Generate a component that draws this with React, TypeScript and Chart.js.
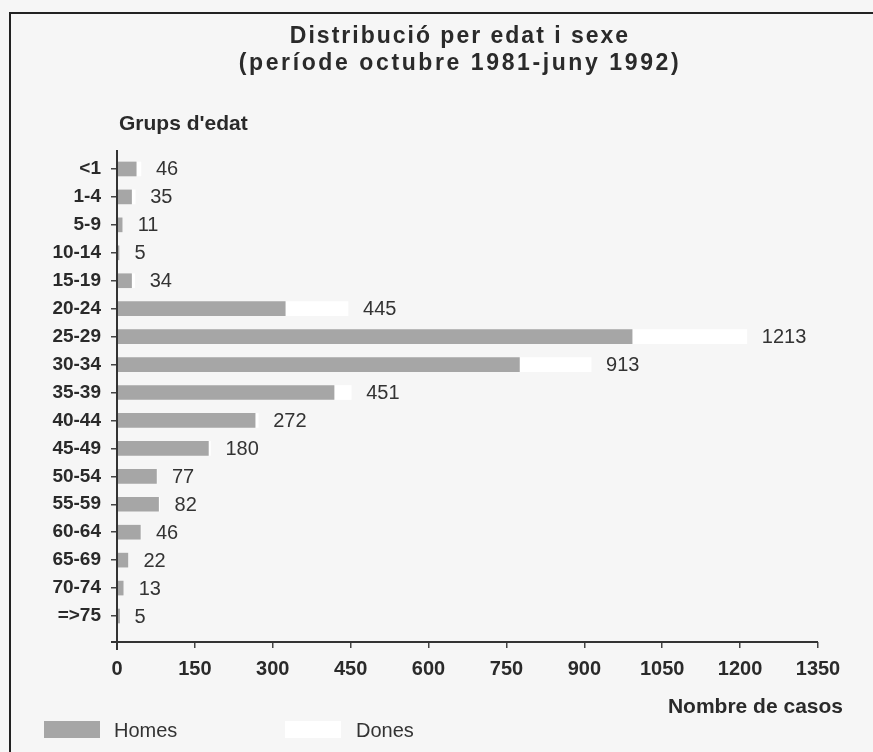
import React, { useEffect, useRef } from "react";
import { Chart, registerables } from "chart.js";

Chart.register(...registerables);

const ageGroups = ["<1", "1-4", "5-9", "10-14", "15-19", "20-24", "25-29", "30-34", "35-39", "40-44", "45-49", "50-54", "55-59", "60-64", "65-69", "70-74", "=>75"];
const homes = [37, 28, 10, 4, 28, 324, 992, 775, 418, 266, 176, 76, 80, 45, 21, 12, 5];
const dones = [9, 7, 1, 1, 6, 121, 221, 138, 33, 6, 4, 1, 2, 1, 1, 1, 0];
const xTicks = [0, 150, 300, 450, 600, 750, 900, 1050, 1200, 1350];
const titleLines = ["Distribució per edat i sexe", "(període octubre 1981-juny 1992)"];
const yTitle = "Grups d'edat";
const xTitle = "Nombre de casos";
const seriesNames = ["Homes", "Dones"];

const GRAY = "#a6a6a6";
const WHITE = "#ffffff";
const BG = "#f6f6f6";
const INK = "#2a2a2a";
const SANS = "'Liberation Sans', Arial, Helvetica, sans-serif";

const decorPlugin = {
  id: "decor",
  beforeDraw(chart: any) {
    const ctx = chart.ctx;
    ctx.save();
    ctx.fillStyle = BG;
    ctx.fillRect(0, 0, chart.width, chart.height);
    ctx.restore();
  },
  afterDatasetsDraw(chart: any) {
    const ctx = chart.ctx;
    const xs = chart.scales.x;
    const ys = chart.scales.y;
    ctx.save();
    // frame
    ctx.strokeStyle = "#222";
    ctx.lineWidth = 2;
    ctx.beginPath();
    ctx.moveTo(10, chart.height);
    ctx.lineTo(10, 13);
    ctx.lineTo(chart.width, 13);
    ctx.stroke();

    // axes
    ctx.strokeStyle = "#333";
    ctx.lineWidth = 2;
    const x0 = xs.getPixelForValue(0);
    ctx.beginPath();
    ctx.moveTo(x0, ys.top - 5);
    ctx.lineTo(x0, ys.bottom + 8);
    ctx.moveTo(x0 - 6, ys.bottom);
    ctx.lineTo(xs.getPixelForValue(1350), ys.bottom);
    ctx.stroke();

    // titles
    ctx.fillStyle = INK;
    ctx.textAlign = "center";
    ctx.textBaseline = "middle";
    ctx.font = `bold 23px ${SANS}`;
    (ctx as any).letterSpacing = "2px";
    ctx.fillText(titleLines[0], 460, 37);
    (ctx as any).letterSpacing = "2.6px";
    ctx.fillText(titleLines[1], 460, 64);
    (ctx as any).letterSpacing = "0px";

    ctx.textAlign = "left";
    ctx.font = `bold 21px ${SANS}`;
    ctx.fillText(yTitle, 119, 124);
    ctx.textAlign = "right";
    ctx.fillText(xTitle, 843, 707);

    // value labels (totals)
    ctx.textAlign = "left";
    ctx.font = `20px ${SANS}`;
    ctx.fillStyle = "#333";
    ageGroups.forEach((_, i) => {
      const total = homes[i] + dones[i];
      const px = xs.getPixelForValue(total) + 15;
      const py = ys.getPixelForValue(i);
      ctx.fillText(String(total), px, py + 1);
    });

    // legend
    ctx.fillStyle = GRAY;
    ctx.fillRect(44, 721, 56, 17);
    ctx.fillStyle = WHITE;
    ctx.fillRect(285, 721, 56, 17);
    ctx.fillStyle = "#333";
    ctx.font = `20px ${SANS}`;
    ctx.fillText(seriesNames[0], 114, 731);
    ctx.fillText(seriesNames[1], 356, 731);
    ctx.restore();
  },
};

export default function App() {
  const ref = useRef<HTMLCanvasElement | null>(null);
  useEffect(() => {
    if (!ref.current) return;
    const chart = new Chart(ref.current, {
      type: "bar",
      data: {
        datasets: [
          {
            label: seriesNames[0],
            data: homes.map((v, i) => ({ x: v, y: i })),
            backgroundColor: GRAY,
            borderWidth: 0,
            barThickness: 14,
          },
          {
            label: seriesNames[1],
            data: dones.map((v, i) => ({ x: v, y: i })),
            backgroundColor: WHITE,
            borderWidth: 0,
            barThickness: 14,
          },
        ],
      },
      options: {
        indexAxis: "y",
        animation: false,
        responsive: false,
        events: [],
        layout: { padding: { top: 155, right: 55, left: 0, bottom: 0 } },
        plugins: { legend: { display: false }, tooltip: { enabled: false }, title: { display: false } },
        scales: {
          x: {
            type: "linear",
            stacked: true,
            min: 0,
            max: 1350,
            offset: false,
            afterFit: (s: any) => { s.height = 110; },
            afterBuildTicks: (s: any) => { s.ticks = xTicks.map((v) => ({ value: v })); },
            border: { display: false },
            grid: { display: true, offset: false, drawOnChartArea: false, drawTicks: true, tickLength: 6, color: "#444", lineWidth: 1.5 },
            ticks: {
              color: INK,
              padding: 9,
              font: { family: SANS, size: 20, weight: "bold" },
              maxRotation: 0,
              callback: (v: any) => String(v),
            },
          },
          y: {
            type: "linear",
            stacked: true,
            reverse: true,
            offset: false,
            min: -0.5,
            max: 16.93,
            afterFit: (s: any) => { s.width = 117; },
            afterBuildTicks: (s: any) => { s.ticks = ageGroups.map((_, i) => ({ value: i })); },
            border: { display: false },
            grid: { display: true, offset: false, drawOnChartArea: false, drawTicks: true, tickLength: 6, color: "#444", lineWidth: 1.5 },
            ticks: {
              color: INK,
              padding: 10,
              font: { family: SANS, size: 19, weight: "bold" },
              callback: (v: any) => ageGroups[Math.round(Number(v))] ?? "",
            },
          },
        },
      },
      plugins: [decorPlugin],
    } as any);
    return () => chart.destroy();
  }, []);
  return (
    <div style={{ position: "fixed", left: 0, top: 0, width: 873, height: 752, background: BG }}>
      <canvas ref={ref} width={873} height={752} style={{ display: "block" }} />
    </div>
  );
}
